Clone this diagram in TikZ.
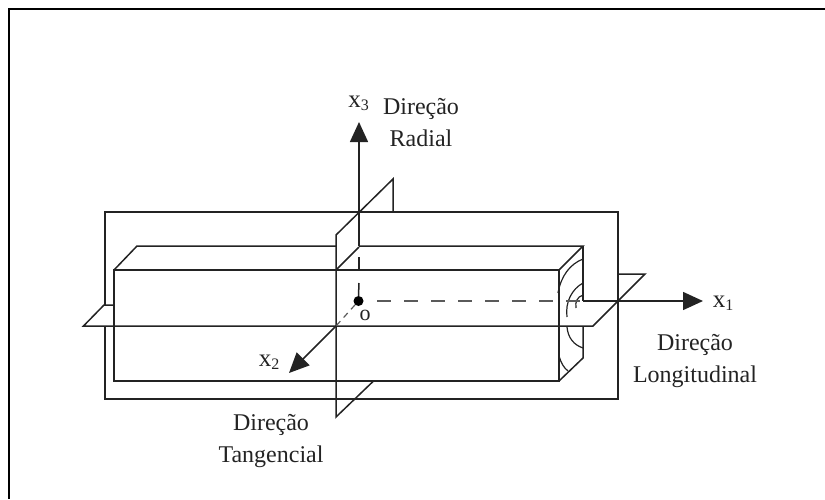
\documentclass[tikz,border=0pt]{standalone}
\usepackage{fontspec}
\setmainfont{Liberation Serif}
\usepackage{xcolor}
\usetikzlibrary{arrows.meta,positioning,calc}
\definecolor{lineblack}{RGB}{35,35,35}
\definecolor{dashgray} {RGB}{90,90,90}
\tikzset{
  edge/.style={draw=lineblack,line width=1.5pt},
  frameline/.style={draw=black,line width=1.8pt},
  arcline/.style={draw=lineblack,line width=1.2pt},
  hidden/.style={draw=dashgray,line width=1.5pt,dash pattern=on 14pt off 13pt},
  axisarr/.style={edge,-{Triangle[length=20pt,width=18pt]}},
  lbl/.style={font=\fontsize{24}{24}\selectfont,color=lineblack,inner sep=0pt},
  axlbl/.style={font=\fontsize{25}{25}\selectfont,color=lineblack,inner sep=0pt},
  origin/.style={circle,fill=black,inner sep=0pt,minimum size=10pt},
}
\newcommand{\axname}[2]{x\raisebox{-3pt}{\fontsize{16}{16}\selectfont #2}}
\begin{document}
\begin{tikzpicture}[x=1pt,y=-1pt]
  \useasboundingbox (0,0) rectangle (825,499);
  % Frame
  \draw[frameline](825,9)--(9,9)--(9,499);
  % Back plane
  \draw[edge](105,305)--(105,212)--(618,212)--(618,399)--(105,399)--(105,326);
  % Horizontal plane
  \draw[edge](113,305)--(104,305)--(83.5,326)--(593,326)--(645,274)--(618,274);
  % Wood block
  \draw[edge](114,326)--(114,270)--(559,270)--(559,381)--(114,381)--cycle;
  \draw[edge](114,270)--(137,246)--(336,246);
  \draw[edge](359,246)--(583,246)--(559,270);
  \draw[edge](583,246)--(583,301);
  \draw[edge](583,326)--(583,358)--(559,381);
  % Vertical plane
  \draw[edge](393,212)--(393,179)--(336,235)--(336,417)--(373,381.5);
  \draw[edge](336,270)--(359,247);
  % Growth rings
  \draw[arcline](558,293) .. controls (561,276) and (570,264) .. (583,259);
  \draw[arcline](567,317) .. controls (565,302) and (572,289) .. (583,283);
  \draw[arcline](576,308) .. controls (575,302) and (577,297) .. (583,295);
  \draw[arcline](567,327) .. controls (568,338) and (574,345) .. (583,348);
  \draw[arcline](559,356) .. controls (561,363) and (564,368) .. (568,371);
  % Origin and axes
  \node[origin](o) at (358.5,301){};
  \coordinate (x1s) at (583,301);
  \coordinate (x1e) at (703,301);
  \coordinate (x2s) at (336,326);
  \coordinate (x2e) at (289,373);
  \coordinate (x3s) at (359,212);
  \coordinate (x3e) at (359,122);
  \draw[axisarr](x1s)--(x1e);
  \draw[axisarr](x2s)--(x2e);
  \draw[axisarr](x3s)--(x3e);
  \draw[edge](x3s)--(359,246);
  % Hidden axis parts
  \draw[edge](359,257)--(359,270);
  \draw[edge](o.north)--(359,283);
  \draw[hidden](377,301)--(583,301);
  \draw[draw=dashgray,line width=1.2pt,dash pattern=on 6pt off 5pt](o)--(x2s);
  % Labels
  \node[axlbl](x3lbl) at (358.5,103){\axname{x}{3}};
  \node[axlbl](x1lbl) at (723,303){\axname{x}{1}};
  \node[axlbl](x2lbl) at (269,362){\axname{x}{2}};
  \node[axlbl,font=\fontsize{22}{22}\selectfont](olbl) at (365,315){o};
  \node[lbl,align=center](rad) at (421,123){Direção\\[8pt]Radial};
  \node[lbl,align=center](lon) at (695,361){Direção\\[8pt]Longitudinal};
  \node[lbl,align=center](tan) at (271,441){Direção\\[8pt]Tangencial};
\end{tikzpicture}
\end{document}
